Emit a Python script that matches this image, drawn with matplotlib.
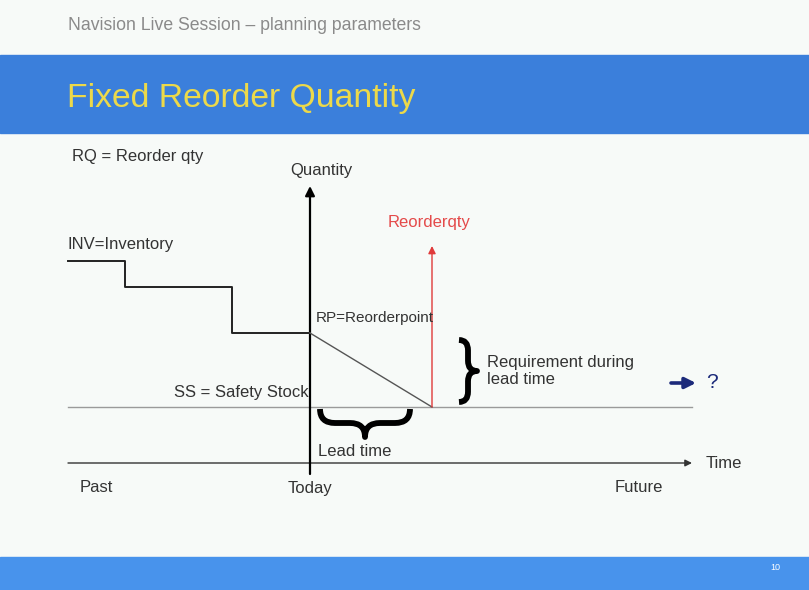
import matplotlib
matplotlib.use("Agg")
import matplotlib.pyplot as plt
from matplotlib.path import Path
from matplotlib.patches import PathPatch, Rectangle

plt.rcParams['font.family'] = ['Liberation Sans', 'DejaVu Sans']

# ---- data (diagram coordinates: time -> x, quantity -> y, screen units) ----
inv_time = [68, 125, 125, 232, 232, 310]
inv_level = [261, 261, 287, 287, 333, 333]
forecast_time = [310, 432]
forecast_level = [333, 407]
safety_stock = 407
today = 310
reorder_time = 432
reorder_top = 246
time_axis = 463
axis_start, axis_end = 68, 692

W, H = 809, 590
fig = plt.figure(figsize=(W / 100, H / 100), dpi=100)
ax = fig.add_axes([0, 0, 1, 1])
ax.set_xlim(0, W)
ax.set_ylim(H, 0)
ax.axis('off')

# backgrounds
ax.add_patch(Rectangle((0, 0), W, H, color='#f7faf8', zorder=0))
ax.add_patch(Rectangle((0, 55), W, 78, color='#3b7fdb', zorder=1))
ax.add_patch(Rectangle((0, 557), W, 33, color='#4893ec', zorder=1))

ax.text(68, 26, 'Navision Live Session \u2013 planning parameters', fontsize=12.7,
        color='#8a8a8a', va='center', ha='left')
ax.text(67, 99, 'Fixed Reorder Quantity', fontsize=24.3, color='#ecd94a',
        va='center', ha='left')
ax.text(775, 567, '10', fontsize=6.5, color='white', va='center', ha='center')

txt = dict(fontsize=12, color='#333333', va='center', ha='left')

# safety stock line
ax.plot([axis_start, axis_end], [safety_stock, safety_stock], color='#9a9a9a', lw=1, zorder=2)
# time axis
ax.annotate('', xy=(axis_end, time_axis), xytext=(axis_start, time_axis),
            arrowprops=dict(arrowstyle='-|>', color='#333333', lw=1.0,
                            mutation_scale=10, shrinkA=0, shrinkB=0), zorder=3)
# quantity axis
ax.annotate('', xy=(today, 186), xytext=(today, 474),
            arrowprops=dict(arrowstyle='-|>', color='black', lw=1.6,
                            mutation_scale=14, shrinkA=0, shrinkB=0), zorder=3)
# inventory
ax.plot(inv_time, inv_level, color='#222222', lw=1.4, zorder=3)
ax.plot(forecast_time, forecast_level, color='#555555', lw=1.0, zorder=3)
# reorder qty arrow
ax.annotate('', xy=(reorder_time, reorder_top), xytext=(reorder_time, safety_stock),
            arrowprops=dict(arrowstyle='-|>', color='#e03a3a', lw=1.0,
                            mutation_scale=11, shrinkA=0, shrinkB=0), zorder=3)


def brace(x0, y0, x1, y1, depth, orient='v'):
    if orient == 'v':
        a, b = y0, y1
        m = (a + b) / 2
        r = min(depth, (b - a) / 6)
        pts = [(0, a), (depth * 0.5, a), (depth * 0.5, a + r),
               (depth * 0.5, m - r), (depth * 0.5, m), (depth, m),
               (depth * 0.5, m), (depth * 0.5, m + r),
               (depth * 0.5, b - r), (depth * 0.5, b), (0, b)]
        pts = [(x0 + dx, y) for dx, y in pts]
    else:
        a, b = x0, x1
        m = (a + b) / 2
        r = min(depth, (b - a) / 6)
        pts = [(a, 0), (a, depth * 0.5), (a + r, depth * 0.5),
               (m - r, depth * 0.5), (m, depth * 0.5), (m, depth),
               (m, depth * 0.5), (m + r, depth * 0.5),
               (b - r, depth * 0.5), (b, depth * 0.5), (b, 0)]
        pts = [(x, y0 + dy) for x, dy in pts]
    codes = [Path.MOVETO, Path.CURVE3, Path.CURVE3, Path.LINETO,
             Path.CURVE3, Path.CURVE3, Path.CURVE3, Path.CURVE3,
             Path.LINETO, Path.CURVE3, Path.CURVE3]
    ax.add_patch(PathPatch(Path(pts, codes), fill=False, lw=4.2,
                           edgecolor='black', capstyle='butt', joinstyle='round', zorder=4))


brace(459, 340, None, 402, 18, 'v')
brace(320, 409, 410, None, 28, 'h')

# labels
ax.text(72, 157, 'RQ = Reorder qty', **txt)
ax.text(290, 170, 'Quantity', **txt)
ax.text(68, 244, 'INV=Inventory', **txt)
ax.text(316, 318, 'RP=Reorderpoint', fontsize=11, color='#333333', va='center', ha='left')
ax.text(174, 392, 'SS = Safety Stock', **txt)
ax.text(388, 222, 'Reorderqty', fontsize=12, color='#e44a4a', va='center', ha='left')
ax.text(487, 362, 'Requirement during', **txt)
ax.text(487, 380, 'lead time', **txt)
ax.text(318, 452, 'Lead time', **txt)
ax.text(706, 464, 'Time', **txt)
ax.text(80, 488, 'Past', **txt)
ax.text(288, 488, 'Today', **txt)
ax.text(615, 488, 'Future', **txt)
ax.annotate('', xy=(696, 383), xytext=(671, 383),
            arrowprops=dict(arrowstyle='-|>', color='#1c2a7a', lw=2.6,
                            mutation_scale=16, shrinkA=0, shrinkB=0), zorder=3)
ax.text(706, 382, '?', fontsize=15, color='#1c2a7a', va='center', ha='left')

fig.savefig('out.png', dpi=100)
